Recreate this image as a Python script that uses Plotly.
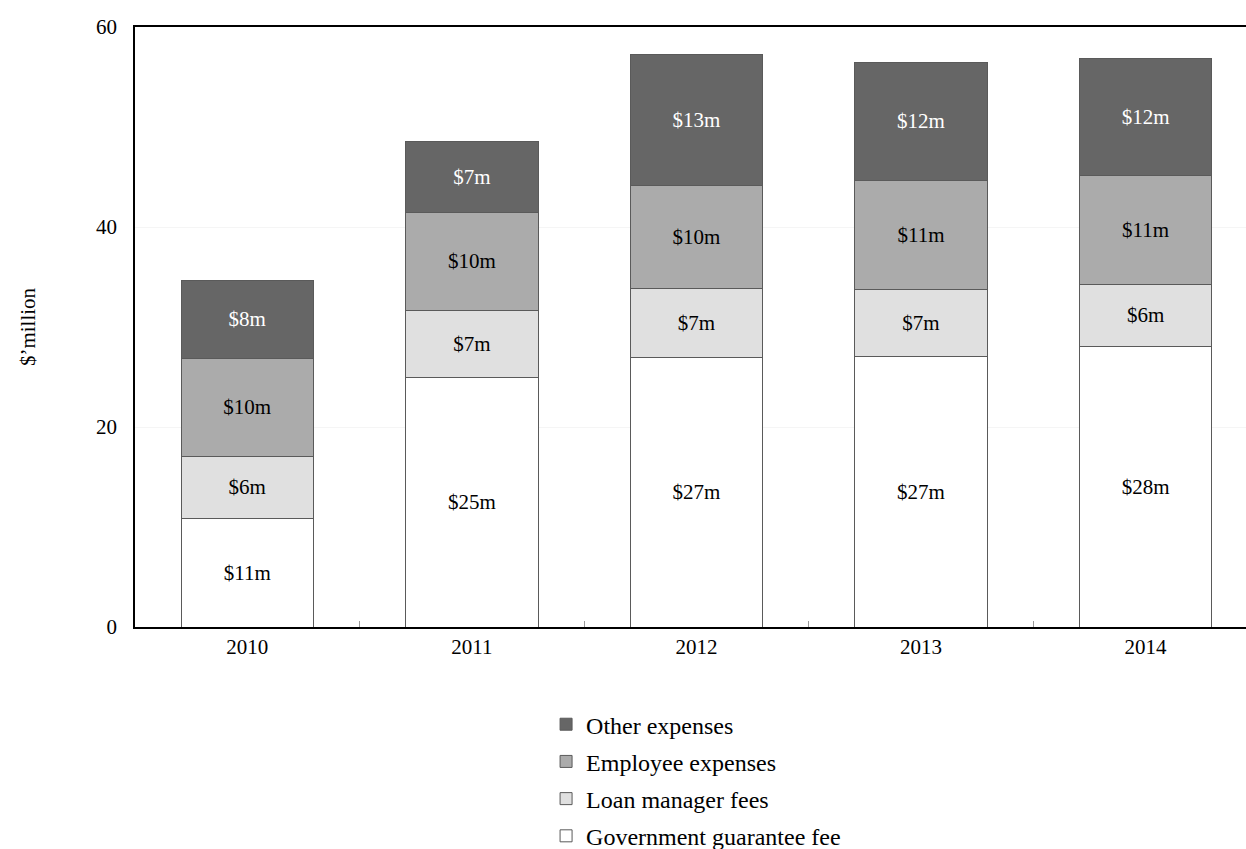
import plotly.graph_objects as go

years = ["2010", "2011", "2012", "2013", "2014"]

# $ million per year, stacked from the bottom up
government_guarantee_fee = [10.9, 25.0, 27.0, 27.1, 28.1]
loan_manager_fees = [6.2, 6.7, 6.9, 6.7, 6.2]
employee_expenses = [9.8, 9.8, 10.3, 10.9, 10.9]
other_expenses = [7.8, 7.05, 13.05, 11.8, 11.65]

y_ticks = [0, 20, 40, 60]

# name, values, fill, label colour, legend rank (top of legend first)
series = [
    ("Government guarantee fee", government_guarantee_fee, "#ffffff", "#000000", 4),
    ("Loan manager fees", loan_manager_fees, "#e0e0e0", "#000000", 3),
    ("Employee expenses", employee_expenses, "#ababab", "#000000", 2),
    ("Other expenses", other_expenses, "#666666", "#ffffff", 1),
]

FONT = "Liberation Serif, Times New Roman, serif"

fig = go.Figure()
for name, vals, fill, txt, rank in series:
    fig.add_trace(go.Bar(
        name=name,
        x=years,
        y=vals,
        width=0.59,
        marker=dict(color=fill, line=dict(color="#5a5a5a", width=1)),
        text=[f"${round(v)}m" for v in vals],
        textposition="inside",
        insidetextanchor="middle",
        textangle=0,
        constraintext="none",
        insidetextfont=dict(family=FONT, size=21, color=txt),
        hoverinfo="skip",
        legendgroup=name,
        legendrank=rank,
    ))

fig.update_layout(
    barmode="stack",
    width=1246,
    height=849,
    margin=dict(l=134.5, r=0, t=26.5, b=221.5),
    paper_bgcolor="white",
    plot_bgcolor="white",
    font=dict(family=FONT, size=21, color="#000000"),
    showlegend=True,
    legend=dict(
        x=0.37, xanchor="left",
        y=0.173, yref="container", yanchor="top",
        orientation="v",
        traceorder="grouped",
        tracegroupgap=3,
        font=dict(family=FONT, size=24, color="#000000"),
        itemwidth=30,
        bgcolor="rgba(0,0,0,0)",
    ),
    xaxis=dict(
        type="category",
        range=[-0.5, 4.447],
        showline=True, linecolor="#000000", linewidth=1.5,
        mirror=True,
        ticks="inside", tickson="boundaries", ticklen=6, tickcolor="#999999",
        tickfont=dict(family=FONT, size=21),
        showgrid=False,
    ),
    yaxis=dict(
        range=[0, 60],
        tickvals=y_ticks,
        showline=True, linecolor="#000000", linewidth=1.5,
        ticks="", ticklabelstandoff=12,
        tickfont=dict(family=FONT, size=21),
        showgrid=True, gridcolor="#f5f5f5", gridwidth=1,
        zeroline=False,
        title=dict(text="$\u2019million", font=dict(family=FONT, size=21), standoff=55),
    ),
)

fig.write_html("out.html")
